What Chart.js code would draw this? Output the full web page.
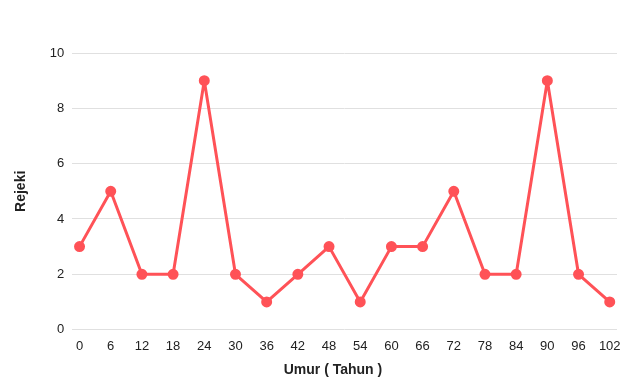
<!DOCTYPE html>
<html>
<head>
<meta charset="utf-8">
<script src="https://cdn.jsdelivr.net/npm/chart.js@4/dist/chart.umd.min.js"></script>
<style>
  html, body { margin: 0; padding: 0; background: #fff; }
  #wrap { width: 640px; height: 389px; }
</style>
</head>
<body>
<div id="wrap"><canvas id="umurChart"></canvas></div>
<script>
const umurLabels = [0, 6, 12, 18, 24, 30, 36, 42, 48, 54, 60, 66, 72, 78, 84, 90, 96, 102];
const rejekiValues = [3, 5, 2, 2, 9, 2, 1, 2, 3, 1, 3, 3, 5, 2, 2, 9, 2, 1];
const yTicks = [0, 2, 4, 6, 8, 10];

const points = umurLabels.map((u, i) => ({ x: u, y: rejekiValues[i] }));

Chart.defaults.font.family = '"Liberation Sans", Arial, sans-serif';
Chart.defaults.color = '#222';

const umurChart = new Chart(document.getElementById('umurChart').getContext('2d'), {
    type: 'line',
    data: {
        datasets: [{
            data: points,
            borderColor: '#ff5257',
            backgroundColor: '#ff5257',
            borderWidth: 3,
            borderJoinStyle: 'round',
            pointRadius: 4,
            pointHoverRadius: 5,
            tension: 0
        }]
    },
    options: {
        responsive: true,
        maintainAspectRatio: false,
        animation: false,
        layout: { padding: { top: 53, right: 23, left: 9, bottom: 6 } },
        plugins: {
            legend: { display: false },
            tooltip: { enabled: false }
        },
        scales: {
            x: {
                type: 'linear',
                min: -1.4,
                max: 103.4,
                afterBuildTicks: (scale) => {
                    scale.ticks = umurLabels.map(v => ({ value: v }));
                },
                grid: { display: false },
                border: { display: false },
                ticks: { font: { size: 13 }, autoSkip: false, maxRotation: 0, padding: 1 },
                title: {
                    display: true,
                    text: 'Umur ( Tahun )      ',
                    font: { size: 14, weight: 'bold' },
                    padding: { top: 7 }
                }
            },
            y: {
                min: 0,
                max: 10,
                afterBuildTicks: (scale) => {
                    scale.ticks = yTicks.map(v => ({ value: v }));
                },
                grid: { color: '#e0e0e0', drawTicks: false },
                border: { display: false },
                ticks: { font: { size: 13 }, padding: 8 },
                title: {
                    display: true,
                    text: 'Rejeki',
                    font: { size: 14, weight: 'bold' },
                    padding: { bottom: 12 }
                }
            }
        }
    }
});
</script>
</body>
</html>
